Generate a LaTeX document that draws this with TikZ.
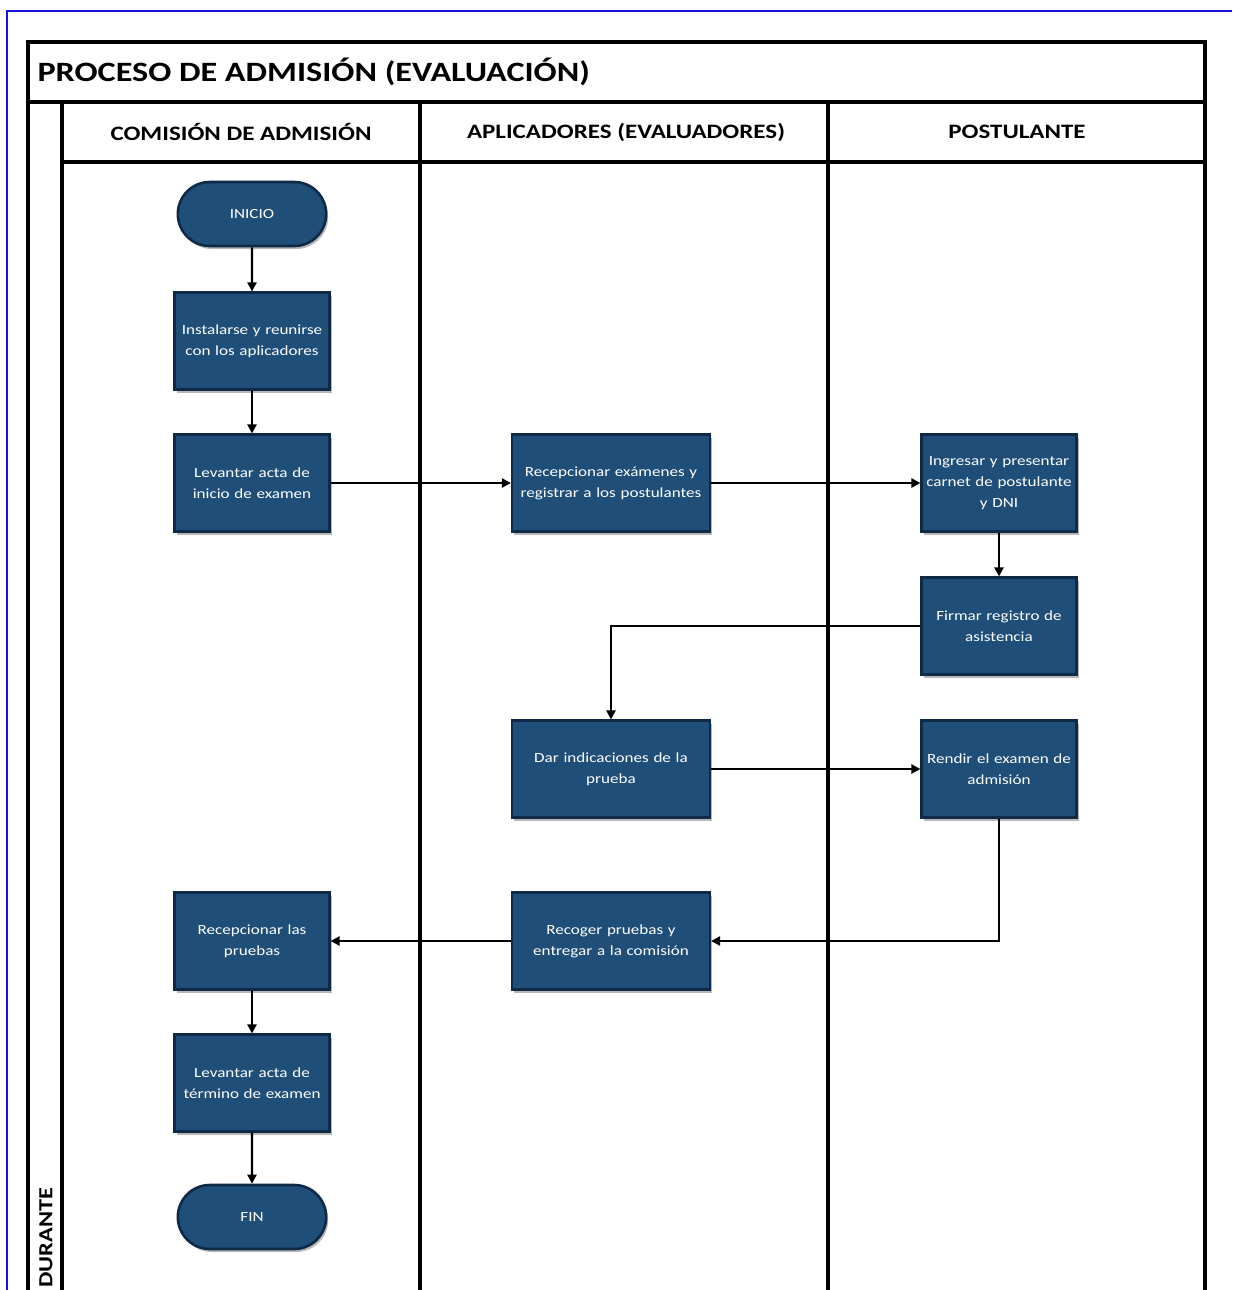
\documentclass[tikz,border=0pt]{standalone}
\usepackage{fontspec}
\setmainfont{Carlito}
\newfontfamily\widefont[FakeStretch=1.22]{Carlito}
\usetikzlibrary{arrows.meta,shapes.misc,shadows}
\definecolor{boxblue}{HTML}{1F4E79}
\definecolor{boxedge}{HTML}{0E2A47}
\definecolor{frameblue}{HTML}{1515E0}
\tikzset{
  lane/.style={line width=4pt, black},
  stepbox/.style={rectangle, draw=boxedge, line width=2.2pt, fill=boxblue,
    minimum width=155pt, minimum height=97pt, align=center, text=white,
    font=\widefont\fontsize{14}{21}\selectfont, text width=150pt, inner sep=0pt,
    drop shadow={shadow xshift=2pt, shadow yshift=-3pt, fill=black!35, opacity=0.8}},
  widebox/.style={stepbox, minimum width=198pt, text width=192pt},
  terminal/.style={rounded rectangle, draw=boxedge, line width=2.6pt, fill=boxblue,
    minimum width=155pt, minimum height=64pt, text=white,
    font=\widefont\fontsize{14}{16}\selectfont,
    drop shadow={shadow xshift=2pt, shadow yshift=-3pt, fill=black!35, opacity=0.8}},
  flow/.style={line width=2.4pt, black, -{Triangle[length=9pt, width=9pt]}},
  header/.style={font=\widefont\fontsize{20.5}{24}\selectfont\bfseries},
}
\begin{document}
\begin{tikzpicture}[x=1pt, y=-1pt]
\useasboundingbox[fill=white] (0,0) rectangle (1232,1290);
% page frame
\draw[frameblue, line width=1.5pt] (7,1290) -- (7,11) -- (1232,11);
% swimlane frame
\draw[lane] (28,1290) -- (28,42) -- (1205,42) -- (1205,1290);
\draw[lane] (28,102) -- (1205,102);
\draw[lane] (62,162) -- (1205,162);
\draw[lane] (62,102) -- (62,1290);
\draw[lane] (420,102) -- (420,1290);
\draw[lane] (828,102) -- (828,1290);
% titles
\node[anchor=west, font=\widefont\fontsize{28}{32}\selectfont\bfseries] (title) at (34,72) {PROCESO DE ADMISIÓN (EVALUACIÓN)};
\node[header] (h1) at (241,132) {COMISIÓN DE ADMISIÓN};
\node[header] (h2) at (626,132) {APLICADORES (EVALUADORES)};
\node[header] (h3) at (1017,132) {POSTULANTE};
\node[rotate=90, anchor=west, inner sep=0pt, font=\widefont\fontsize{20}{24}\selectfont\bfseries] (phase) at (46,1288) {DURANTE};
% steps
\node[terminal] (inicio) at (252,214) {INICIO};
\node[stepbox] (instalarse) at (252,341) {Instalarse y reunirse\\con los aplicadores};
\node[stepbox] (actaini) at (252,483) {Levantar acta de\\inicio de examen};
\node[widebox] (recexam) at (611,483) {Recepcionar exámenes y\\registrar a los postulantes};
\node[stepbox] (ingresar) at (999,483) {Ingresar y presentar\\carnet de postulante\\y DNI};
\node[stepbox] (firmar) at (999,626) {Firmar registro de\\asistencia};
\node[widebox] (indica) at (611,769) {Dar indicaciones de la\\prueba};
\node[stepbox] (rendir) at (999,769) {Rendir el examen de\\admisión};
\node[widebox] (recoger) at (611,941) {Recoger pruebas y\\entregar a la comisión};
\node[stepbox] (recprue) at (252,941) {Recepcionar las\\pruebas};
\node[stepbox] (actafin) at (252,1083) {Levantar acta de\\término de examen};
\node[terminal] (fin) at (252,1217) {FIN};
% connectors
\draw[flow] (inicio) -- (instalarse);
\draw[flow] (instalarse) -- (actaini);
\draw[flow] (actaini) -- (recexam);
\draw[flow] (recexam) -- (ingresar);
\draw[flow] (ingresar) -- (firmar);
\draw[flow] (firmar.west) -| (indica.north);
\draw[flow] (indica) -- (rendir);
\draw[flow] (rendir.south) |- (recoger.east);
\draw[flow] (recoger) -- (recprue);
\draw[flow] (recprue) -- (actafin);
\draw[flow] (actafin) -- (fin);
\end{tikzpicture}
\end{document}
